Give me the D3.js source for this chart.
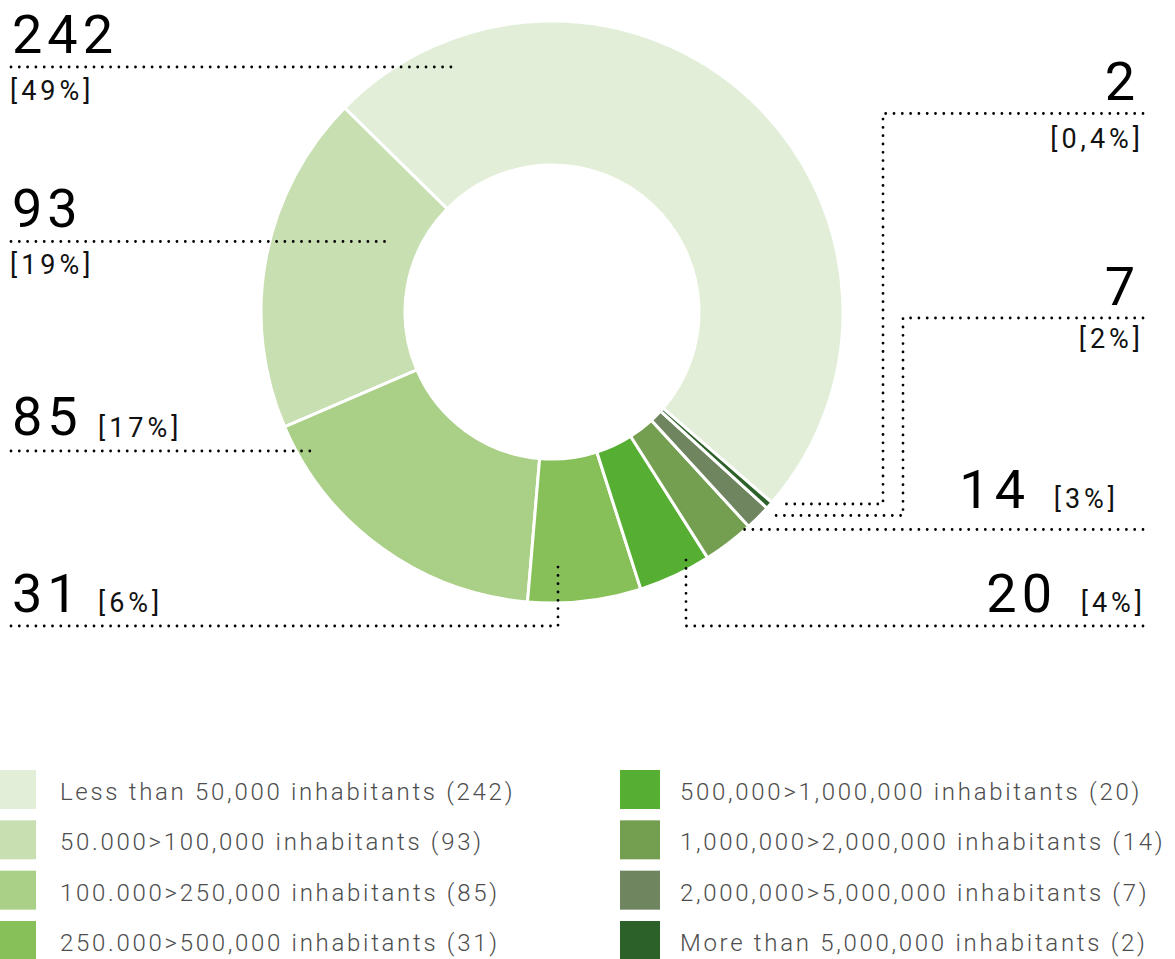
<!DOCTYPE html>
<html>
<head>
<meta charset="utf-8">
<script src="https://cdn.jsdelivr.net/npm/d3@7/dist/d3.min.js"></script>
<style>
  html, body { margin: 0; padding: 0; background: #fff; }
  svg { display: block; }
  .num { font-family: Roboto, "Liberation Sans", sans-serif; font-size: 54px; font-weight: 400; fill: #000; letter-spacing: 5px; }
  .pct { font-family: Roboto, "Liberation Sans", sans-serif; font-size: 27px; font-weight: 400; fill: #111; letter-spacing: 4px; }
  .leg { font-family: Roboto, "Liberation Sans", sans-serif; font-size: 24px; font-weight: 300; fill: #4d4d4d; letter-spacing: 2.7px; }
</style>
</head>
<body>
<div id="chart"></div>
<script>
// ---- data ----
var categories = [
  'Less than 50,000 inhabitants',
  '50.000>100,000 inhabitants',
  '100.000>250,000 inhabitants',
  '250.000>500,000 inhabitants',
  '500,000>1,000,000 inhabitants',
  '1,000,000>2,000,000 inhabitants',
  '2,000,000>5,000,000 inhabitants',
  'More than 5,000,000 inhabitants'
];
var values = [242, 93, 85, 31, 20, 14, 7, 2];
var percentLabels = ['49%', '19%', '17%', '6%', '4%', '3%', '2%', '0,4%'];
var colors = ['#e2eed8', '#c7dfb1', '#aacf86', '#87bf59', '#56ae32', '#749f50', '#6f855f', '#2c6129'];

// ---- layout of the callouts (annotation positions only) ----
var callouts = [
  { line: [[11, 67], [455, 67]],                                   num: [12, 53, 'start'],   pct: [10, 100, 'start'] },
  { line: [[11, 241.5], [387, 241.5]],                             num: [12, 227, 'start'],  pct: [10, 274, 'start'] },
  { line: [[11, 451], [318, 451]],                                 num: [12, 435, 'start'],  pct: [98, 437, 'start'] },
  { line: [[11, 626], [558, 626], [558, 563]],                     num: [12, 612, 'start'],  pct: [98, 612, 'start'] },
  { line: [[1143, 626], [686, 626], [686, 558]],                   num: [1057, 612, 'end'],  pct: [1146, 612, 'end'] },
  { line: [[1143, 529.5], [742, 529.5]],                           num: [1030, 508, 'end'],  pct: [1119, 508, 'end'] },
  { line: [[1143, 318], [903, 318], [903, 515.5], [773, 515.5]],   num: [1140, 305, 'end'],  pct: [1144, 348, 'end'] },
  { line: [[1143, 113.5], [883, 113.5], [883, 504], [780, 504]],   num: [1140, 100, 'end'],  pct: [1144, 148, 'end'] }
];

var W = 1175, H = 959;
var cx = 552, cy = 312, rOuter = 291, rInner = 147;
var deg = Math.PI / 180;

var svg = d3.select('#chart').append('svg')
  .attr('width', W).attr('height', H)
  .attr('viewBox', '0 0 ' + W + ' ' + H);

// slices run counter-clockwise, biggest first, ending just past the 4 o'clock position
var a0 = 490.9 * deg;
var pie = d3.pie().sort(null).startAngle(a0).endAngle(a0 - 2 * Math.PI);
var arc = d3.arc().innerRadius(rInner).outerRadius(rOuter);

svg.append('g')
  .attr('transform', 'translate(' + cx + ',' + cy + ')')
  .selectAll('path').data(pie(values)).join('path')
  .attr('d', arc)
  .attr('fill', function (d, i) { return colors[i]; })
  .attr('stroke', '#fff')
  .attr('stroke-width', 3)
  .attr('stroke-linejoin', 'miter');

// dotted leader lines
var line = d3.line();
svg.append('g').selectAll('path').data(callouts).join('path')
  .attr('d', function (d) { return line(d.line); })
  .attr('fill', 'none')
  .attr('stroke', '#000')
  .attr('stroke-width', 2.8)
  .attr('stroke-linecap', 'round')
  .attr('stroke-dasharray', '0 8.3');

// value + percentage labels
var lab = svg.append('g');
callouts.forEach(function (c, i) {
  lab.append('text').attr('class', 'num')
    .attr('x', c.num[0]).attr('y', c.num[1])
    .attr('text-anchor', c.num[2])
    .text(values[i]);
  lab.append('text').attr('class', 'pct')
    .attr('x', c.pct[0]).attr('y', c.pct[1])
    .attr('text-anchor', c.pct[2])
    .text('[' + percentLabels[i] + ']');
});

// legend: two columns of four
var leg = svg.append('g');
var rowY = d3.scaleLinear().domain([0, 3]).range([770, 921]);
categories.forEach(function (name, i) {
  var col = i < 4 ? 0 : 1, row = i % 4;
  var sx = col === 0 ? 0 : 620, sw = col === 0 ? 36 : 40;
  var tx = col === 0 ? 60 : 680;
  leg.append('rect')
    .attr('x', sx).attr('y', rowY(row))
    .attr('width', sw).attr('height', 39)
    .attr('fill', colors[i]);
  leg.append('text').attr('class', 'leg')
    .attr('x', tx).attr('y', rowY(row) + 30)
    .text(name + ' (' + values[i] + ')');
});
</script>
</body>
</html>
